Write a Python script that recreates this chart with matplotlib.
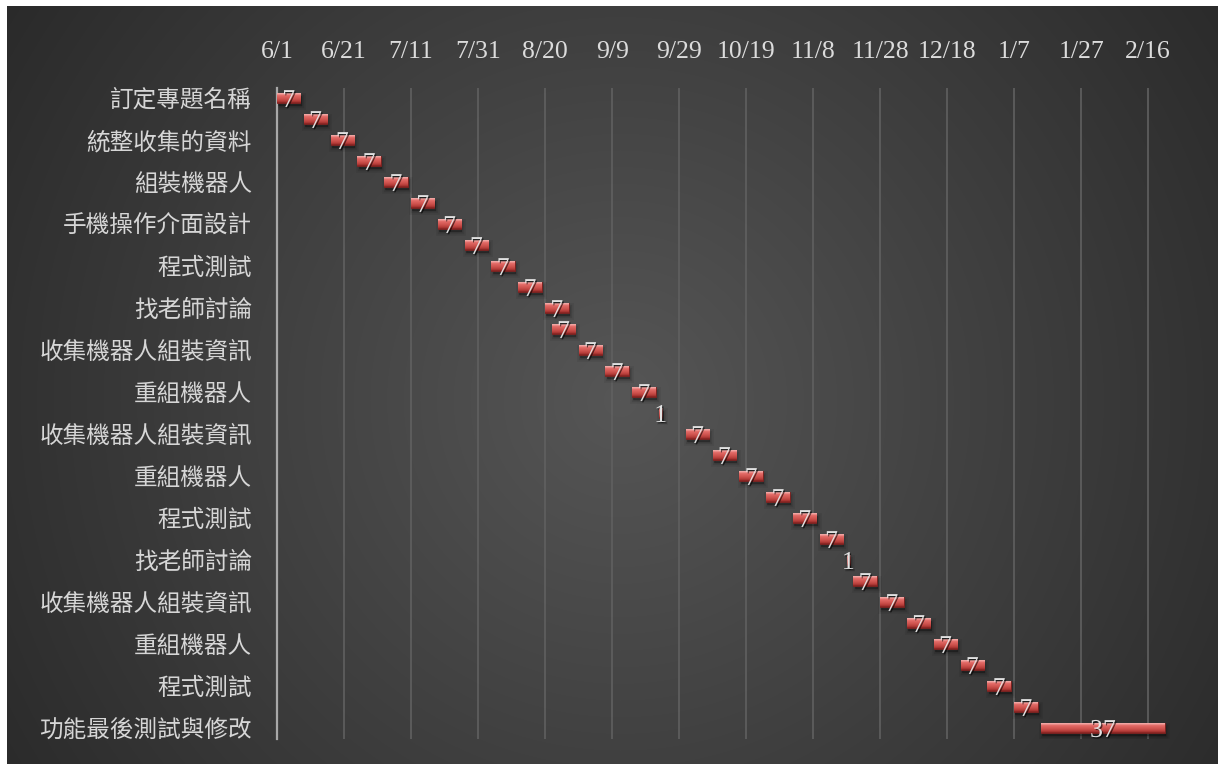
import numpy as np
import pandas as pd
import matplotlib
matplotlib.use("Agg")
import matplotlib.pyplot as plt
import matplotlib.dates as mdates
import matplotlib.patheffects as pe
from matplotlib.patches import Rectangle
from matplotlib.transforms import ScaledTranslation
from matplotlib.colors import LinearSegmentedColormap

# ---- schedule data -------------------------------------------------------
task_labels = [
    "訂定專題名稱", "統整收集的資料", "組裝機器人", "手機操作介面設計",
    "程式測試", "找老師討論", "收集機器人組裝資訊", "重組機器人",
    "收集機器人組裝資訊", "重組機器人", "程式測試", "找老師討論",
    "收集機器人組裝資訊", "重組機器人", "程式測試", "功能最後測試與修改",
]

start_dates = [
    "2016-06-01", "2016-06-09", "2016-06-17", "2016-06-25", "2016-07-03",
    "2016-07-11", "2016-07-19", "2016-07-27", "2016-08-04", "2016-08-12",
    "2016-08-20", "2016-08-22", "2016-08-30", "2016-09-07", "2016-09-15",
    "2016-09-23", "2016-10-01", "2016-10-09", "2016-10-17", "2016-10-25",
    "2016-11-02", "2016-11-10", "2016-11-18", "2016-11-20", "2016-11-28",
    "2016-12-06", "2016-12-14", "2016-12-22", "2016-12-30", "2017-01-07",
    "2017-01-15",
]

durations = [7, 7, 7, 7, 7, 7, 7, 7, 7, 7, 7, 7, 7, 7, 7, 1,
             7, 7, 7, 7, 7, 7, 1, 7, 7, 7, 7, 7, 7, 7, 37]

tick_dates = [
    "2016-06-01", "2016-06-21", "2016-07-11", "2016-07-31", "2016-08-20",
    "2016-09-09", "2016-09-29", "2016-10-19", "2016-11-08", "2016-11-28",
    "2016-12-18", "2017-01-07", "2017-01-27", "2017-02-16",
]
tick_labels = ["6/1", "6/21", "7/11", "7/31", "8/20", "9/9", "9/29", "10/19",
               "11/8", "11/28", "12/18", "1/7", "1/27", "2/16"]

# ---- figure ---------------------------------------------------------------
W, H, DPI = 1218, 764, 100
fig = plt.figure(figsize=(W / DPI, H / DPI), dpi=DPI, facecolor="white")

# dark radial backdrop
PW, PH = W - 7, H - 6
bg = fig.add_axes([7 / W, 0, PW / W, PH / H], zorder=0)
yy, xx = np.mgrid[0:PH, 0:PW]
dist = np.hypot(xx - 613, yy - 394)
shade = np.clip(86 - 0.06 * dist, 36, 255) / 255.0
bg.imshow(np.dstack([shade, shade, shade]), aspect="auto",
          extent=[0, 1, 0, 1], interpolation="bilinear")
bg.axis("off")

ax_left, ax_right, ax_top, ax_bottom = 277, 1175, 87.5, 738.5
ax = fig.add_axes([ax_left / W, (H - ax_bottom) / H,
                   (ax_right - ax_left) / W, (ax_bottom - ax_top) / H],
                  zorder=1)
ax.set_facecolor("none")

starts = mdates.date2num(pd.to_datetime(start_dates).to_pydatetime())
durs = np.array(durations, dtype=float)
rows = np.arange(len(durations))
ticks = mdates.date2num(pd.to_datetime(tick_dates).to_pydatetime())

bar_h = 0.5
bars = ax.barh(rows, durs, left=starts, height=bar_h, color="#c0504d",
               edgecolor="#7a1f1d", linewidth=0.6, zorder=3)

# soft drop shadow under each bar
shift = ScaledTranslation(0.012, -0.03, fig.dpi_scale_trans)
for rect in bars:
    for lw, a in [(0, 0.22), (2.5, 0.10), (5, 0.06)]:
        sh = Rectangle(rect.get_xy(), rect.get_width(), rect.get_height(),
                       facecolor="black", edgecolor="black", linewidth=lw,
                       alpha=a, transform=ax.transData + shift, zorder=2)
        ax.add_patch(sh)

# bevelled red fill
bevel = LinearSegmentedColormap.from_list("bevel", [
    (0.00, "#e07a77"), (0.12, "#f6b3b0"), (0.30, "#e46c68"),
    (0.60, "#d0544f"), (0.85, "#b33b38"), (1.00, "#80201e")])
grad = np.linspace(0, 1, 64).reshape(-1, 1)
for rect in bars:
    x0, y0 = rect.get_xy()
    w, h = rect.get_width(), rect.get_height()
    im = ax.imshow(grad, cmap=bevel, aspect="auto", interpolation="bilinear",
                   extent=[x0, x0 + w, y0 + h, y0], zorder=3.5)
    im.set_clip_path(rect)

# duration labels
label_fx = [pe.withSimplePatchShadow(offset=(1, -1), shadow_rgbFace="black",
                                      alpha=0.6)]
for s, d, r in zip(starts, durs, rows):
    ax.text(s + d / 2, r + 0.14, f"{int(d)}", ha="center", va="center",
            fontsize=18.5, family="Liberation Serif", color="#e2e2e2",
            path_effects=label_fx, zorder=5)

# axes styling
ax.set_xlim(ticks[0], ticks[0] + 268)
ax.set_ylim(len(durations) - 0.5, -0.5)

ax.xaxis.tick_top()
ax.set_xticks(ticks)
ax.set_xticklabels(tick_labels, family="Liberation Serif", fontsize=18.5,
                   color="#dcdcdc")
ax.tick_params(axis="x", length=0, pad=17.5)

ax.set_yticks(rows[::2])
ax.set_yticklabels(task_labels, family=["Noto Sans CJK TC", "DejaVu Sans"],
                   fontsize=17, color="#d6d6d6")
ax.tick_params(axis="y", length=0, pad=18)

ax.xaxis.grid(True, color="#606060", linewidth=1.2)
ax.set_axisbelow(True)
for side in ["top", "right", "bottom"]:
    ax.spines[side].set_visible(False)
ax.spines["left"].set_color("#a8a8a8")
ax.spines["left"].set_linewidth(1.6)

fig.savefig("out.png", dpi=DPI, facecolor="white")
